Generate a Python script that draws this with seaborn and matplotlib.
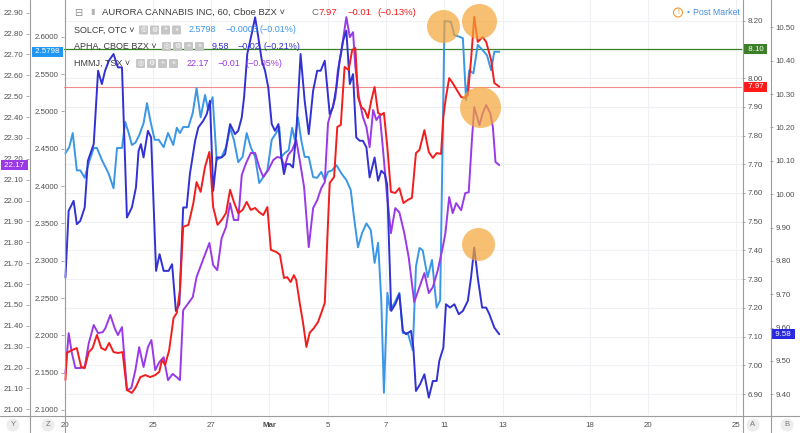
import numpy as np
import matplotlib
matplotlib.use("Agg")
import matplotlib.pyplot as plt
import matplotlib.transforms as mtransforms
from matplotlib.lines import Line2D
from matplotlib.patches import Ellipse, FancyBboxPatch
from matplotlib.ticker import FormatStrFormatter
import seaborn as sns

sns.set_style("white")
plt.rcParams["font.family"] = ["Liberation Sans", "DejaVu Sans"]

# x = trading days since Feb 20 (60 min bars), y = price
aurora_t = [0.00, 0.05, 0.22, 0.39, 0.54, 0.66, 0.80, 0.93, 1.08, 1.23, 1.37, 1.50, 1.65, 1.80, 1.96,
            2.11, 2.28, 2.42, 2.57, 2.74, 2.91, 3.08, 3.22, 3.31, 3.42, 3.56, 3.71, 3.82, 3.93, 4.04,
            4.22, 4.39, 4.50, 4.64, 4.79, 4.94, 5.07, 5.22, 5.36, 5.51, 5.65, 5.78, 5.93, 6.08, 6.22,
            6.36, 6.51, 6.64, 6.79, 6.93, 7.05, 7.23, 7.36, 7.50, 7.61, 7.73, 7.84, 7.92, 8.04, 8.15,
            8.27, 8.38, 8.53, 8.67, 8.78, 8.90, 8.99, 9.07, 9.22, 9.33, 9.45, 9.58, 9.72, 9.84, 9.95,
            10.04, 10.15, 10.27, 10.38, 10.50, 10.61, 10.73, 10.84, 10.93, 11.05, 11.17, 11.32, 11.46, 11.60, 11.75,
            11.89, 12.03, 12.15, 12.32, 12.47, 12.61, 12.74, 12.89, 12.97, 13.06, 13.17, 13.29, 13.43, 13.58, 13.69,
            13.81, 13.92, 14.03, 14.15, 14.32, 14.44, 14.61, 14.72, 14.89]
aurora_px = [6.949, 7.043, 7.053, 7.060, 6.994, 6.990, 7.046, 7.060, 7.106, 7.060, 7.053, 7.078, 7.046, 7.043, 7.046,
             6.914, 6.904, 6.925, 6.959, 6.966, 6.959, 6.966, 6.977, 7.019, 7.001, 7.053, 7.165, 7.182, 7.262, 7.482,
             7.489, 7.565, 7.638, 7.604, 7.691, 7.743, 7.551, 7.489, 7.506, 7.530, 7.611, 7.569, 7.530, 7.541, 7.569,
             7.541, 7.548, 7.534, 7.523, 7.551, 7.402, 7.395, 7.385, 7.304, 7.307, 7.290, 7.314, 7.297, 7.217, 7.151,
             7.064, 7.113, 7.130, 7.151, 7.182, 7.217, 7.447, 7.635, 7.656, 7.830, 7.837, 8.039, 8.028, 8.098, 8.105,
             7.934, 7.900, 7.889, 7.861, 7.924, 7.969, 7.879, 7.872, 7.879, 7.757, 7.604, 7.600, 7.617, 7.565, 7.576,
             7.583, 7.739, 7.750, 7.819, 7.743, 7.722, 7.739, 7.736, 7.865, 7.934, 8.000, 7.983, 7.959, 7.934, 7.931,
             7.941, 8.063, 8.213, 8.126, 8.143, 8.126, 8.063, 7.983, 7.970]

apha_t = [0.00, 0.11, 0.28, 0.39, 0.51, 0.66, 0.77, 0.97, 1.12, 1.25, 1.36, 1.49, 1.65, 1.80, 1.94,
          2.11, 2.28, 2.42, 2.51, 2.59, 2.68, 2.83, 2.94, 3.11, 3.23, 3.37, 3.54, 3.66, 3.79, 3.91,
          4.04, 4.16, 4.27, 4.45, 4.56, 4.73, 4.85, 4.96, 5.07, 5.19, 5.36, 5.48, 5.65, 5.82, 5.93,
          6.05, 6.13, 6.24, 6.39, 6.51, 6.62, 6.74, 6.85, 6.96, 7.08, 7.19, 7.31, 7.41, 7.50, 7.58,
          7.70, 7.81, 7.92, 8.07, 8.21, 8.35, 8.50, 8.64, 8.76, 8.90, 9.07, 9.18, 9.30, 9.41, 9.53,
          9.64, 9.76, 9.87, 9.98, 10.10, 10.21, 10.33, 10.44, 10.61, 10.73, 10.84, 10.96, 11.04, 11.18, 11.32,
          11.46, 11.58, 11.69, 11.86, 11.94, 12.03, 12.17, 12.32, 12.47, 12.61, 12.74, 12.83, 12.97, 13.06, 13.20,
          13.35, 13.50, 13.64, 13.81, 13.92, 14.03, 14.15, 14.30, 14.44, 14.55, 14.72, 14.89]
apha_px = [9.75, 9.95, 9.98, 9.91, 9.92, 9.96, 10.10, 10.15, 10.37, 10.33, 10.37, 10.40, 10.42, 10.38, 10.38,
           9.93, 9.96, 10.02, 10.13, 10.15, 10.11, 10.19, 10.17, 9.77, 9.82, 9.77, 9.77, 9.79, 9.65, 9.67,
           9.96, 9.96, 10.06, 10.16, 10.20, 10.22, 10.24, 10.28, 10.01, 10.11, 10.11, 10.12, 10.21, 10.18, 10.19,
           10.23, 10.29, 10.42, 10.48, 10.53, 10.47, 10.40, 10.37, 10.32, 10.21, 10.19, 10.21, 10.11, 10.06, 10.09,
           10.09, 10.08, 10.18, 10.42, 10.28, 10.18, 10.31, 10.37, 10.37, 10.40, 10.24, 10.26, 10.32, 10.40, 10.46,
           10.49, 10.33, 10.36, 10.17, 10.16, 10.16, 10.14, 10.05, 10.11, 10.04, 10.07, 10.06, 10.03, 9.65, 9.67,
           9.70, 9.59, 9.58, 9.59, 9.54, 9.41, 9.43, 9.46, 9.39, 9.44, 9.44, 9.50, 9.54, 9.67, 9.66,
           9.67, 9.64, 9.65, 9.68, 9.75, 9.84, 9.75, 9.66, 9.66, 9.64, 9.60, 9.58]

solcf_t = [0.00, 0.13, 0.25, 0.39, 0.51, 0.66, 0.80, 0.97, 1.08, 1.25, 1.48, 1.65, 1.77, 1.94, 2.05,
           2.17, 2.28, 2.40, 2.53, 2.68, 2.80, 2.91, 3.06, 3.20, 3.37, 3.52, 3.70, 3.82, 3.93, 4.04,
           4.22, 4.37, 4.50, 4.64, 4.79, 4.90, 5.05, 5.19, 5.36, 5.51, 5.65, 5.78, 5.93, 6.08, 6.22,
           6.36, 6.51, 6.65, 6.79, 6.93, 7.08, 7.23, 7.34, 7.41, 7.52, 7.66, 7.78, 7.87, 7.98, 8.09,
           8.21, 8.35, 8.50, 8.64, 8.78, 8.90, 9.01, 9.15, 9.30, 9.47, 9.64, 9.79, 9.90, 10.04, 10.18,
           10.33, 10.48, 10.61, 10.73, 10.84, 10.93, 11.05, 11.14, 11.29, 11.46, 11.58, 11.75, 11.92, 12.03, 12.15,
           12.26, 12.43, 12.58, 12.74, 12.86, 13.01, 13.23, 13.35, 13.52, 13.64, 13.75, 13.86, 14.00, 14.15, 14.32,
           14.47, 14.61, 14.72, 14.89]
solcf_px = [2.444, 2.452, 2.471, 2.421, 2.421, 2.411, 2.431, 2.451, 2.451, 2.435, 2.417, 2.397, 2.451, 2.451, 2.486,
            2.471, 2.455, 2.458, 2.468, 2.484, 2.511, 2.488, 2.462, 2.462, 2.452, 2.471, 2.455, 2.478, 2.471, 2.479,
            2.479, 2.498, 2.531, 2.492, 2.522, 2.502, 2.519, 2.435, 2.439, 2.452, 2.478, 2.462, 2.432, 2.439, 2.471,
            2.452, 2.439, 2.404, 2.412, 2.421, 2.462, 2.471, 2.479, 2.439, 2.444, 2.448, 2.478, 2.462, 2.492, 2.462,
            2.439, 2.439, 2.412, 2.411, 2.419, 2.408, 2.419, 2.421, 2.428, 2.417, 2.408, 2.395, 2.359, 2.318, 2.337,
            2.350, 2.341, 2.297, 2.324, 2.247, 2.123, 2.257, 2.234, 2.243, 2.257, 2.203, 2.203, 2.180, 2.292, 2.317,
            2.314, 2.278, 2.301, 2.237, 2.247, 2.621, 2.620, 2.602, 2.600, 2.598, 2.515, 2.555, 2.551, 2.589, 2.582,
            2.575, 2.555, 2.580, 2.5798]

hmmj_t = [0.00, 0.11, 0.22, 0.34, 0.51, 0.66, 0.80, 0.97, 1.12, 1.28, 1.37, 1.54, 1.69, 1.80, 1.94,
          2.11, 2.26, 2.40, 2.53, 2.68, 2.83, 2.95, 3.08, 3.22, 3.37, 3.52, 3.68, 3.82, 3.93, 4.04,
          4.22, 4.37, 4.50, 4.68, 4.82, 4.94, 5.07, 5.21, 5.36, 5.51, 5.65, 5.78, 5.93, 6.05, 6.20,
          6.36, 6.51, 6.65, 6.79, 6.96, 7.13, 7.27, 7.41, 7.52, 7.64, 7.78, 7.92, 8.04, 8.19, 8.35,
          8.50, 8.64, 8.78, 8.90, 9.01, 9.12, 9.26, 9.35, 9.46, 9.64, 9.76, 9.87, 9.95, 10.07, 10.21,
          10.33, 10.44, 10.56, 10.67, 10.79, 10.90, 11.01, 11.17, 11.32, 11.46, 11.63, 11.78, 11.97, 12.15, 12.32,
          12.47, 12.61, 12.78, 12.95, 13.04, 13.17, 13.29, 13.41, 13.58, 13.72, 13.84, 13.95, 14.03, 14.21, 14.32,
          14.44, 14.58, 14.67, 14.76, 14.89]
hmmj_px = [21.174, 21.365, 21.270, 21.198, 21.198, 21.203, 21.317, 21.404, 21.365, 21.370, 21.389, 21.452, 21.389, 21.356, 21.394,
           21.092, 21.102, 21.188, 21.298, 21.203, 21.298, 21.332, 21.188, 21.226, 21.250, 21.140, 21.170, 21.154, 21.140, 21.475,
           21.509, 21.538, 21.634, 21.701, 21.753, 21.797, 21.691, 21.667, 21.820, 21.873, 21.988, 21.907, 21.907, 22.122, 22.180,
           22.228, 22.228, 22.161, 22.113, 22.146, 22.194, 22.209, 22.204, 22.161, 22.218, 22.242, 22.290, 22.194, 22.065, 21.777,
           21.964, 22.002, 22.060, 22.088, 22.371, 22.424, 22.491, 22.625, 22.707, 22.879, 22.783, 22.807, 22.640, 22.496, 22.400,
           22.352, 22.256, 22.434, 22.386, 22.410, 22.242, 22.065, 21.844, 21.964, 21.944, 21.844, 21.729, 21.514, 21.586, 21.653,
           21.557, 21.586, 21.667, 21.777, 21.844, 22.017, 21.940, 21.988, 21.954, 22.036, 22.040, 22.290, 22.448, 22.362, 22.419,
           22.458, 22.419, 22.352, 22.185, 22.170]

aurora_post = 8.10
aurora_last = 7.97

tick_days = [0, 3, 5, 7, 9, 11, 13, 15, 18, 20, 23]
tick_labels = ["20", "25", "27", "Mar", "5", "7", "11", "13", "18", "20", "25"]

c_aurora = "#f21d1d"
c_solcf = "#3a97e6"
c_apha = "#3232d4"
c_hmmj = "#9a3ae6"
c_post = "#3b7f27"

W, H = 800, 433
fig = plt.figure(figsize=(W / 100, H / 100), dpi=100)
fig.patch.set_facecolor("white")
PL, PR, PB = 64, 742, 415


def fx(px):
    return px / W


def fy(py):
    return 1 - py / H


ax = fig.add_axes([PL / W, 1 - PB / H, (PR - PL) / W, PB / H])
ax_z = ax.twinx()
ax_y = ax.twinx()
ax_b = ax.twinx()
ax_r = ax.twinx()
ax.yaxis.tick_right()

sns.lineplot(x=solcf_t, y=solcf_px, ax=ax_z, color=c_solcf, lw=1.4, estimator=None, sort=False)
sns.lineplot(x=hmmj_t, y=hmmj_px, ax=ax_y, color=c_hmmj, lw=1.4, estimator=None, sort=False)
sns.lineplot(x=apha_t, y=apha_px, ax=ax_b, color=c_apha, lw=1.4, estimator=None, sort=False)
sns.lineplot(x=aurora_t, y=aurora_px, ax=ax_r, color=c_aurora, lw=1.4, estimator=None, sort=False)

ax.axhline(aurora_post, color=c_post, lw=0.9, zorder=3)
ax.axhline(aurora_last, color="#f28b8b", lw=0.8, zorder=3)


# orange highlight circles around the last-day peaks
def highlight(axis, t, v, start, dx, dy, diam):
    t = np.asarray(t)
    v = np.asarray(v)
    sel = np.where(t >= start)[0]
    i = sel[np.argmax(v[sel])]
    tr = mtransforms.offset_copy(axis.transData, fig=fig, x=dx, y=dy, units="dots")
    ax_r.plot([t[i]], [v[i]], marker="o", ms=diam * 0.72, mfc="#f5a536", mec="none",
              alpha=0.7, transform=tr, zorder=20, clip_on=False)


highlight(ax_z, solcf_t, solcf_px, 12.5, -1.5, -5, 33)
highlight(ax_r, aurora_t, aurora_px, 13.5, 5, -4, 35)
highlight(ax_y, hmmj_t, hmmj_px, 13.5, -6, -2, 41)
highlight(ax_b, apha_t, apha_px, 13.5, 4, 4, 33)

for a in (ax, ax_z, ax_y, ax_b, ax_r):
    a.set_xlabel("")
    a.set_ylabel("")
    for s in a.spines.values():
        s.set_visible(False)
    a.tick_params(axis="y", which="both", direction="out", length=2.5, width=0.6, pad=1.5,
                  labelsize=5.7, color="#9a9a9a", labelcolor="#505050")
for a in (ax_z, ax_y, ax_b, ax_r):
    a.tick_params(axis="x", bottom=False, labelbottom=False)

ax.set_xlim(-0.05, 23.22)
ax.set_ylim(6.827, 8.272)
ax_r.set_ylim(6.827, 8.272)
ax_b.set_ylim(9.338, 10.582)
ax_z.set_ylim(2.0933, 2.6492)
ax_y.set_ylim(20.973, 22.961)

a_ticks = np.round(np.arange(6.9, 8.201, 0.1), 2)
ax.set_yticks(a_ticks)
# the 8.10 label sits under the post-market tag
ax.set_yticklabels(["" if abs(v - aurora_post) < 1e-6 else "%.2f" % v for v in a_ticks])
ax_b.set_yticks(np.round(np.arange(9.4, 10.501, 0.1), 2))
ax_b.yaxis.set_major_formatter(FormatStrFormatter("%.2f"))
ax_b.spines["right"].set_position(("outward", 28 * 0.72))
ax_z.yaxis.tick_left()
ax_z.set_yticks(np.round(np.arange(2.10, 2.601, 0.05), 2))
ax_z.yaxis.set_major_formatter(FormatStrFormatter("%.4f"))
ax_y.yaxis.tick_left()
ax_y.spines["left"].set_position(("outward", 35 * 0.72))
ax_y.set_yticks(np.round(np.arange(21.0, 22.901, 0.1), 2))
ax_y.yaxis.set_major_formatter(FormatStrFormatter("%.2f"))
ax_r.set_yticks([])

ax.set_xticks(tick_days)
ax.set_xticklabels(tick_labels)
ax.tick_params(axis="x", direction="out", length=2.5, width=0.6, pad=2.5, labelsize=5.7,
               color="#9a9a9a", labelcolor="#505050")
ax.get_xticklabels()[3].set_fontweight("bold")
ax.grid(True, color="#eef0f4", lw=0.8)
ax.set_axisbelow(True)

# separators of the price scales
line_kw = dict(transform=fig.transFigure, color="#9c9c9c", lw=0.8)
fig.add_artist(Line2D([0, 1], [fy(415.5)] * 2, **line_kw))
for xp in (29.5, 64.5, 742.5, 770.5):
    fig.add_artist(Line2D([fx(xp)] * 2, [0, 1], **line_kw))


# last price tags on the scales
def price_tag(axis, value, text, color, x_px):
    trans = mtransforms.blended_transform_factory(fig.transFigure, axis.transData)
    axis.text(fx(x_px), value, " " + text + " ", transform=trans, ha="center", va="center",
              fontsize=5.7, color="white", zorder=30, clip_on=False,
              bbox=dict(boxstyle="square,pad=0.2", fc=color, ec="none"))


price_tag(ax_y, hmmj_px[-1], "%.2f" % hmmj_px[-1], c_hmmj, 14.5)
price_tag(ax_z, solcf_px[-1], "%.4f" % solcf_px[-1], "#2196f3", 47.5)
price_tag(ax_r, aurora_post, "%.2f" % aurora_post, c_post, 755.5)
price_tag(ax_r, aurora_last, "%.2f" % aurora_last, "#ff1a1a", 755.5)
price_tag(ax_b, apha_px[-1], "%.2f" % apha_px[-1], "#2929e0", 783)

# legend header
hdr = 6.8


def icons(x0, y):
    for k, g in enumerate(["◎", "⚙", "+", "×"]):
        xl = x0 + 11 * k
        fig.add_artist(FancyBboxPatch((fx(xl), fy(y + 4.5)), 9 / W, 9 / H,
                                      boxstyle="round,pad=0,rounding_size=0.002",
                                      transform=fig.transFigure, fc="#c6c6c6", ec="none"))
        fig.text(fx(xl + 4.5), fy(y), g, fontsize=5, color="white", ha="center", va="center")


fig.text(fx(74), fy(12.5), "⊟", fontsize=7, color="#8a8a8a", va="center")
fig.text(fx(90), fy(12.5), "▮", fontsize=6, color="#b5b5b5", va="center")
fig.text(fx(102), fy(12.5), "AURORA CANNABIS INC, 60, Cboe BZX ˅", fontsize=hdr, color="#3c3c3c", va="center")
fig.text(fx(311), fy(12.5), "C", fontsize=hdr, color="#6a6a6a", va="center")
fig.text(fx(318), fy(12.5), "%.2f" % aurora_last, fontsize=hdr, color=c_aurora, va="center")
fig.text(fx(347), fy(12.5), "−0.01", fontsize=hdr, color=c_aurora, va="center")
fig.text(fx(377), fy(12.5), "(−0.13%)", fontsize=hdr, color=c_aurora, va="center")

rows = [
    (30, "SOLCF, OTC ˅", 139, [(189, "%.4f" % solcf_px[-1]), (225, "−0.0003"), (259, "(−0.01%)")], "#3d95e8"),
    (46.5, "APHA, CBOE BZX ˅", 162, [(212, "%.2f" % apha_px[-1]), (237, "−0.02"), (263, "(−0.21%)")], c_apha),
    (63.5, "HMMJ, TSX ˅", 136, [(187, "%.2f" % hmmj_px[-1]), (217, "−0.01"), (245, "(−0.05%)")], c_hmmj),
]
for y, name, ix, vals, col in rows:
    fig.text(fx(74), fy(y), name, fontsize=hdr - 0.3, color="#3c3c3c", va="center")
    icons(ix, y)
    for xv, s in vals:
        fig.text(fx(xv), fy(y), s, fontsize=hdr - 0.3, color=col, va="center")

# post market badge
fig.add_artist(Ellipse((fx(678), fy(12.5)), 9 / W, 9 / H, transform=fig.transFigure,
                       fc="none", ec="#f39c34", lw=0.8))
fig.text(fx(678), fy(12.5), "!", fontsize=5, color="#f39c34", ha="center", va="center")
fig.text(fx(688), fy(12.5), "•", fontsize=6, color="#4a90e2", ha="center", va="center")
fig.text(fx(693), fy(12.5), "Post Market", fontsize=6.3, color="#4a90e2", va="center")

# scale badges
for xp, s in ((13, "Y"), (48, "Z"), (753, "A"), (787, "B")):
    fig.add_artist(Ellipse((fx(xp), fy(425)), 13 / W, 13 / H, transform=fig.transFigure,
                           fc="#ededed", ec="none"))
    fig.text(fx(xp), fy(425), s, fontsize=5.5, color="#777777", ha="center", va="center")

fig.savefig("out.png", dpi=100)
